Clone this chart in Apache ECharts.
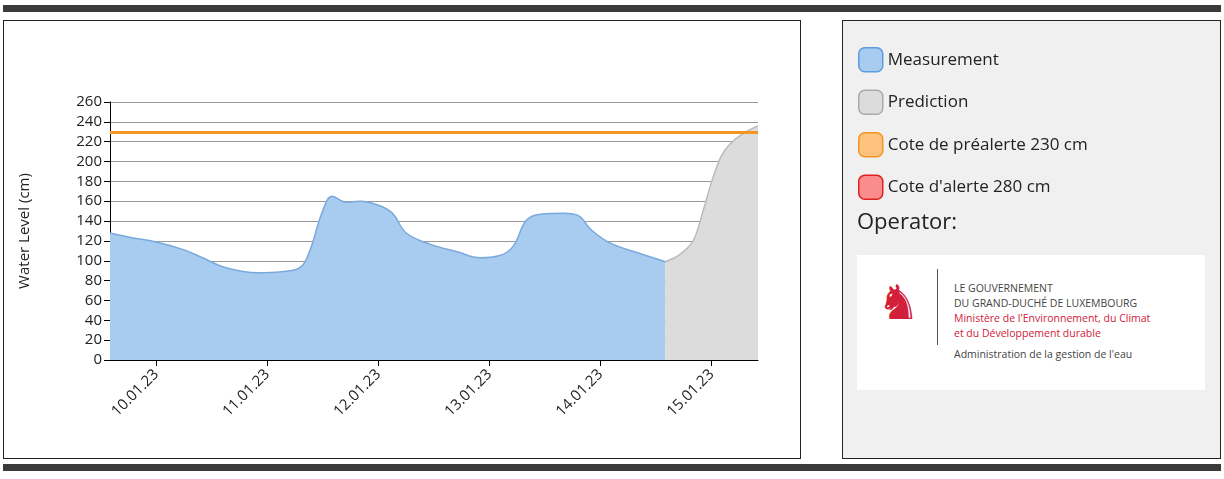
<!DOCTYPE html>
<html>
<head>
<meta charset="utf-8">
<script src="https://cdn.jsdelivr.net/npm/echarts@6/dist/echarts.min.js"></script>
<style>
body{margin:0;width:1224px;height:479px;background:#fff;font-family:"Open Sans",sans-serif;position:relative;overflow:hidden}
.bar{position:absolute;left:3px;width:1218px;height:7px;background:#3a3a3a}
.box{position:absolute;border:1px solid #222}
#chart{position:absolute;left:0;top:0;width:1224px;height:479px;z-index:2}
#logo{position:absolute;left:857px;top:255px;width:348px;height:135px;background:#fff;z-index:1}
#logo .v{position:absolute;left:80px;top:14px;width:1px;height:76px;background:#555}
#logo .t{position:absolute;left:97px;top:26px;font-size:10.5px;line-height:15px;color:#444}
#logo .r{color:#d2203a}
</style>
</head>
<body>
<div class="bar" style="top:5px"></div>
<div class="bar" style="top:464px"></div>
<div class="box" style="left:3px;top:20px;width:796px;height:437px"></div>
<div class="box" style="left:842px;top:20px;width:377px;height:437px;background:#f0f0f0"></div>
<div id="logo">
  <div style="position:absolute;left:20px;top:18px;width:36px;height:56px;color:#d2203a;font-size:48px;line-height:56px">♞</div>
  <div class="v"></div>
  <div class="t">LE GOUVERNEMENT<br>DU GRAND-DUCHÉ DE LUXEMBOURG<br><span class="r">Ministère de l'Environnement, du Climat<br>et du Développement durable</span><br><span style="display:inline-block;margin-top:6px">Administration de la gestion de l'eau</span></div>
</div>
<div id="chart"></div>
<script>
// hours after 10.01.23 00:00
var measHours = [-10, -5, 0, 6, 10, 15, 22, 27, 31, 33, 36, 38, 41, 44, 48, 51, 54, 59, 65, 70, 74, 77, 80, 83, 88, 91, 94, 98, 104, 110];
var measValues = [128, 123, 119, 111, 103, 93, 88, 89, 93, 108, 151, 165, 159, 160, 156, 148, 128, 117, 109, 103, 105, 114, 141, 147, 148, 146, 131, 118, 108, 99];
var predHours = [110, 113, 116, 118, 120, 122, 124, 127, 130];
var predValues = [99, 106, 120, 148, 180, 205, 218, 229, 236];
var preAlert = 230;
var alert = 280;

var base = new Date(2023, 0, 10).getTime();
function toPairs(h, v) {
    return h.map(function (x, i) { return [base + x * 3600000, v[i]]; });
}

var chart = echarts.init(document.getElementById('chart'));
chart.setOption({
    animation: false,
    textStyle: {fontFamily: 'Open Sans'},
    legend: {
        orient: 'vertical',
        left: 853, top: 42,
        itemWidth: 24, itemHeight: 24, itemGap: 17,
        icon: 'roundRect',
        textStyle: {fontSize: 17, color: '#222', fontFamily: 'Open Sans'},
        data: [
            {name: 'Measurement', itemStyle: {color: '#a8cbf0', borderColor: '#5b9be0', borderWidth: 1.5}},
            {name: 'Prediction', itemStyle: {color: '#dcdcdc', borderColor: '#aaa', borderWidth: 1.5}},
            {name: 'Cote de préalerte 230 cm', itemStyle: {color: '#fcc27e', borderColor: '#f39423', borderWidth: 1.5}},
            {name: "Cote d'alerte 280 cm", itemStyle: {color: '#f98c8c', borderColor: '#e02020', borderWidth: 1.5}}
        ],
        selectedMode: false
    },
    graphic: [{type: 'text', left: 857, top: 212, style: {text: 'Operator:', fontSize: 22, fill: '#222', fontFamily: 'Open Sans'}}],
    grid: {left: 110, top: 102, width: 648, height: 258},
    xAxis: {
        type: 'time',
        min: base - 10 * 3600000, max: base + 130 * 3600000,
        minInterval: 86400000, maxInterval: 86400000,
        axisLine: {lineStyle: {color: '#000'}},
        axisTick: {show: true, length: 6, lineStyle: {color: '#000'}},
        splitLine: {show: false},
        axisLabel: {
            rotate: 45, fontSize: 15, color: '#222', margin: 12, fontFamily: 'Open Sans',
            formatter: function (v) { return echarts.time.format(v, '{dd}.{MM}.{yy}', false); }
        }
    },
    yAxis: {
        type: 'value', min: 0, max: 260, interval: 20,
        name: 'Water Level (cm)', nameLocation: 'middle', nameGap: 78,
        nameTextStyle: {fontSize: 15, color: '#222', fontFamily: 'Open Sans'},
        axisLine: {show: true, lineStyle: {color: '#000'}},
        axisTick: {show: true, length: 6, lineStyle: {color: '#000'}},
        axisLabel: {fontSize: 15, color: '#222', fontFamily: 'Open Sans'},
        splitLine: {lineStyle: {color: '#999'}}
    },
    series: [
        {
            name: 'Measurement', type: 'line', smooth: 0.4, symbol: 'none',
            data: toPairs(measHours, measValues),
            lineStyle: {color: '#7aa9dc', width: 1.5},
            itemStyle: {color: '#a8cbf0'},
            areaStyle: {color: '#a8cbf0', opacity: 1}, z: 2
        },
        {
            name: 'Prediction', type: 'line', smooth: 0.3, symbol: 'none',
            data: toPairs(predHours, predValues),
            lineStyle: {color: '#bbb', width: 1.5},
            itemStyle: {color: '#dcdcdc'},
            areaStyle: {color: '#dcdcdc', opacity: 1}, z: 2
        },
        {
            name: 'Cote de préalerte 230 cm', type: 'line', data: [],
            itemStyle: {color: '#f39423'},
            markLine: {symbol: 'none', silent: true, label: {show: false},
                lineStyle: {color: '#f39423', width: 3, type: 'solid'},
                data: [{yAxis: preAlert}]}, z: 3
        },
        {
            name: "Cote d'alerte 280 cm", type: 'line', data: [],
            itemStyle: {color: '#e02020'},
            markLine: {symbol: 'none', silent: true, label: {show: false},
                lineStyle: {color: '#e02020', width: 3, type: 'solid'},
                data: [{yAxis: alert}]}, z: 3
        }
    ]
});
</script>
</body>
</html>
